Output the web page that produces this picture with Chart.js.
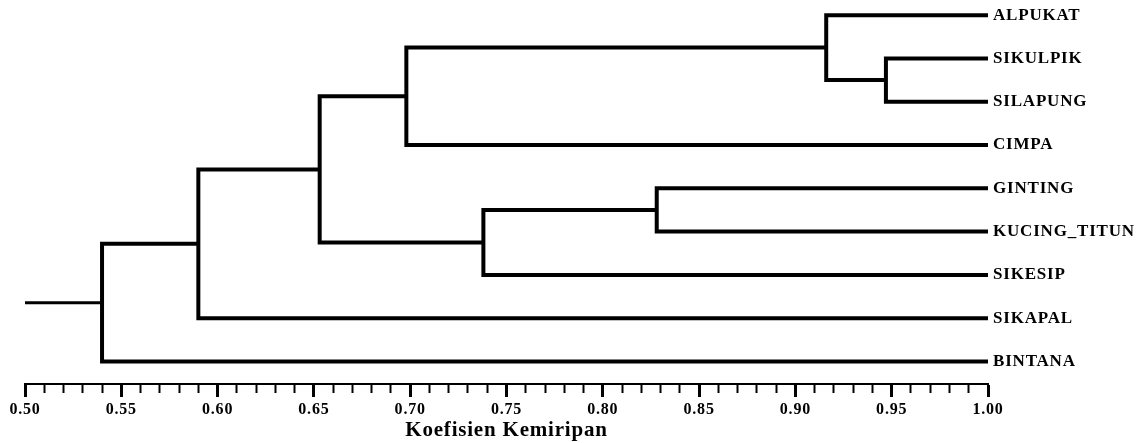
<!DOCTYPE html>
<html>
<head>
<meta charset="utf-8">
<script src="https://cdn.jsdelivr.net/npm/chart.js@4"></script>
<style>
  body { margin: 0; background: #fff; }
</style>
</head>
<body>
<canvas id="myChart" width="1143" height="443"></canvas>
<script>
// leaves, top to bottom
var leaves = ["ALPUKAT", "SIKULPIK", "SILAPUNG", "CIMPA", "GINTING", "KUCING_TITUN", "SIKESIP", "SIKAPAL", "BINTANA"];

// merges (linkage style: ids >= leaves.length are earlier merges)
var mergeLeft   = [1, 0, 10, 4, 12, 11, 14, 15];
var mergeRight  = [2, 9, 3, 5, 6, 13, 7, 8];
var mergeHeight = [0.947, 0.916, 0.698, 0.828, 0.738, 0.653, 0.590, 0.540];

var axisStart = 0.50;
var leafValue = 1.00;

var nodeX = [];
var nodeY = [];
for (var i = 0; i < leaves.length; i++) {
  nodeX[i] = leafValue;
  nodeY[i] = i;
}

var datasets = [];
for (var j = 0; j < mergeHeight.length; j++) {
  var a = mergeLeft[j], b = mergeRight[j], h = mergeHeight[j];
  var id = leaves.length + j;
  nodeX[id] = h;
  nodeY[id] = (nodeY[a] + nodeY[b]) / 2;
  datasets.push({
    data: [
      {x: nodeX[a], y: nodeY[a]},
      {x: h, y: nodeY[a]},
      {x: h, y: nodeY[b]},
      {x: nodeX[b], y: nodeY[b]}
    ],
    borderWidth: 4
  });
}
var root = leaves.length + mergeHeight.length - 1;
datasets.push({
  data: [{x: axisStart, y: nodeY[root]}, {x: nodeX[root], y: nodeY[root]}],
  borderWidth: 3
});

datasets.forEach(function(d){
  d.borderColor = "#000";
  d.showLine = true;
  d.pointRadius = 0;
  d.borderJoinStyle = "miter";
  d.borderCapStyle = "butt";
  d.clip = false;
});

function isMajor(v){
  return Math.round(v * 100) % 5 === 0;
}

var spacing = {
  id: "spacing",
  beforeUpdate: function(chart){ chart.ctx.letterSpacing = "0.8px"; },
  beforeDraw: function(chart){ chart.ctx.letterSpacing = "0.8px"; }
};

Chart.defaults.font.family = "'Liberation Serif', 'Times New Roman', serif";
Chart.defaults.font.weight = "bold";
Chart.defaults.color = "#000";

var chart = new Chart("myChart", {
  type: "scatter",
  data: { datasets: datasets },
  plugins: [spacing],
  options: {
    responsive: false,
    animation: false,
    layout: { padding: { left: 25, top: 0, right: 0, bottom: 0 } },
    plugins: { legend: { display: false }, tooltip: { enabled: false } },
    scales: {
      x: {
        type: "linear",
        position: "bottom",
        min: 0.5,
        max: 1.0,
        afterFit: function(s){ s.height = 59; },
        ticks: {
          stepSize: 0.01,
          autoSkip: false,
          maxRotation: 0,
          padding: 3,
          font: { size: 16, weight: "bold" },
          callback: function(v){ return isMajor(v) ? (Math.round(v * 100) / 100).toFixed(2) : ""; }
        },
        grid: {
          drawOnChartArea: false,
          drawTicks: true,
          tickLength: 13,
          tickColor: "#000",
          tickWidth: function(c){ return isMajor(c.tick.value) ? 3 : 2; },
          tickBorderDash: function(c){ return isMajor(c.tick.value) ? [] : [8, 30]; }
        },
        border: { display: true, color: "#000", width: 2 },
        title: {
          display: true,
          text: "Koefisien Kemiripan",
          color: "#000",
          font: { size: 21, weight: "bold", lineHeight: 1.1 },
          padding: { top: 0, bottom: 1 }
        }
      },
      y: {
        type: "linear",
        position: "right",
        reverse: true,
        min: -0.35,
        max: 8.52,
        afterBuildTicks: function(s){
          s.ticks = leaves.map(function(n, i){ return {value: i}; });
        },
        afterFit: function(s){
          s.width = 155;
          s.paddingTop = 0;
          s.paddingBottom = 0;
        },
        ticks: {
          padding: 5,
          font: { size: 17, weight: "bold" },
          callback: function(v, i){ return leaves[i]; }
        },
        grid: { display: false, drawTicks: false },
        border: { display: false }
      }
    }
  }
});
</script>
</body>
</html>
